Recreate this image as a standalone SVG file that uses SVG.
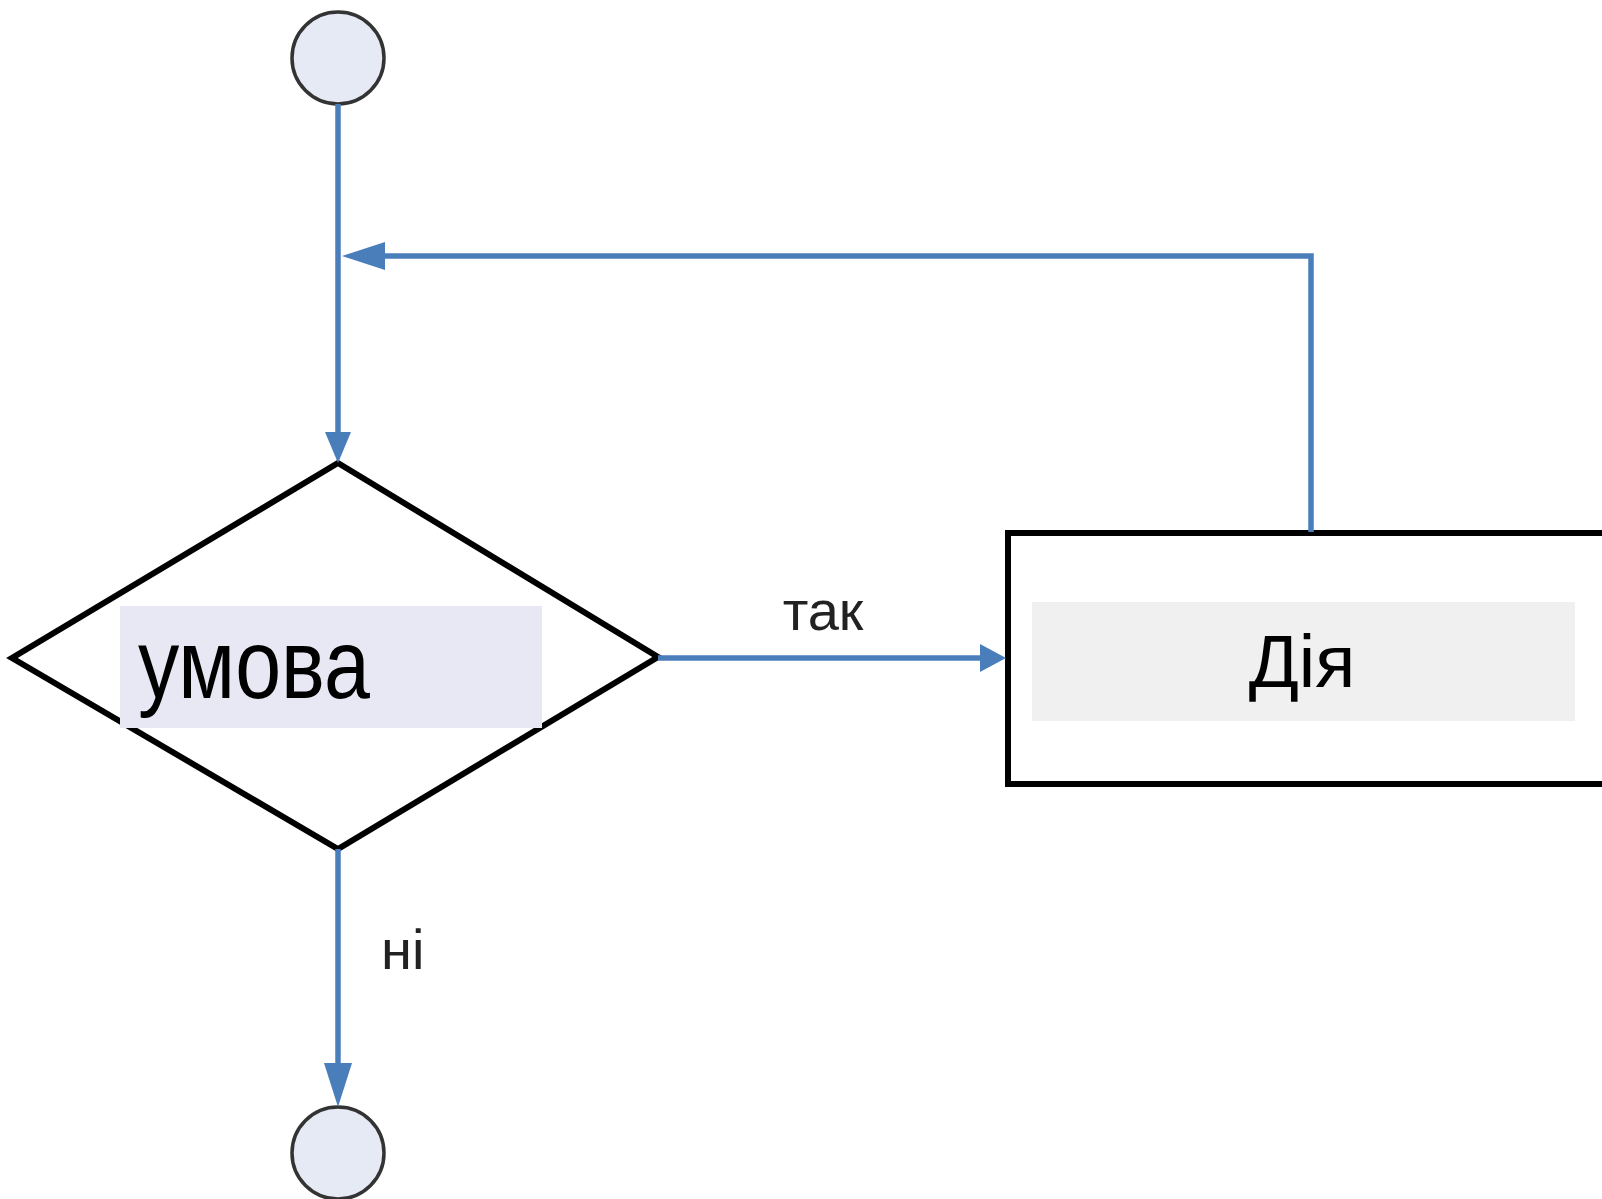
<svg xmlns="http://www.w3.org/2000/svg" width="1602" height="1199" viewBox="0 0 1602 1199">
  <style>
    .flow { fill: none; stroke: #4a7ebb; stroke-width: 5.5; }
    .head { fill: #4a7ebb; stroke: none; }
    .term { fill: #e6eaf5; stroke: #333333; stroke-width: 3.5; }
    .shape { fill: #ffffff; stroke: #000000; stroke-width: 6; stroke-linejoin: miter; }
    .lbl { font-family: "Liberation Sans", Arial, sans-serif; fill: #000000; }
    .edge { font-family: "Liberation Sans", Arial, sans-serif; fill: #222222; font-size: 56px; }
  </style>
  <rect width="1602" height="1199" fill="#ffffff"/>

  <!-- start terminator -->
  <g id="start">
    <circle class="term" cx="338" cy="58" r="46"/>
  </g>

  <!-- loop condition -->
  <g id="condition">
    <polygon class="shape" points="338,463 658,657 338,849 12,658"/>
    <rect x="120" y="606" width="422" height="122" fill="#e8e8f4"/>
    <text class="lbl" x="138" y="698" font-size="98" textLength="232" lengthAdjust="spacingAndGlyphs">умова</text>
  </g>

  <!-- loop body -->
  <g id="action">
    <rect class="shape" x="1008" y="533" width="600" height="251"/>
    <rect x="1032" y="602" width="543" height="119" fill="#f0f0f0"/>
    <text class="lbl" x="1302" y="687" font-size="74" text-anchor="middle">Дія</text>
  </g>

  <!-- end terminator -->
  <g id="end">
    <circle class="term" cx="338" cy="1153" r="46"/>
  </g>

  <!-- connectors -->
  <g id="connectors">
    <line class="flow" x1="338" y1="104" x2="338" y2="436"/>
    <polygon class="head" points="325,432 351,432 338,463"/>

    <polyline class="flow" points="1311,532 1311,256 380,256"/>
    <polygon class="head" points="385,242 385,270 342,256"/>

    <line class="flow" x1="658" y1="658" x2="982" y2="658"/>
    <polygon class="head" points="980,644 980,672 1006,658"/>
    <text class="edge" x="823" y="630" text-anchor="middle">так</text>

    <line class="flow" x1="338" y1="849" x2="338" y2="1066"/>
    <polygon class="head" points="324,1063 352,1063 338,1107"/>
    <text class="edge" x="381" y="969">ні</text>
  </g>
</svg>
